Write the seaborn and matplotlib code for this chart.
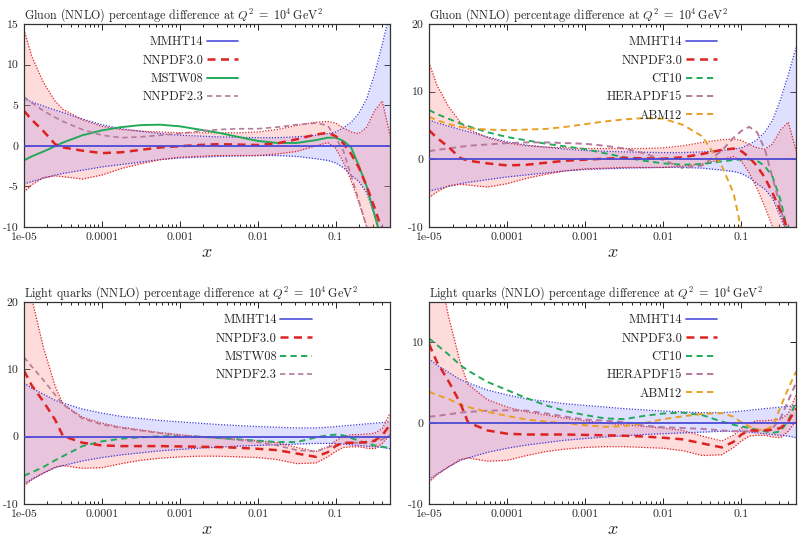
import numpy as np
import matplotlib
matplotlib.use('Agg')
import matplotlib.pyplot as plt
import seaborn as sns
from matplotlib.lines import Line2D
from matplotlib.ticker import LogLocator, NullFormatter

# log10(x) grid the curves were read at
log_x = [-5, -4.9, -4.75, -4.6, -4.5, -4.25, -4, -3.75, -3.5, -3.25, -3, -2.75, -2.5, -2.25,
         -2, -1.75, -1.5, -1.25, -1.1, -1, -0.9, -0.8, -0.7, -0.6, -0.5, -0.4, -0.3]
x = 10 ** np.array(log_x)

# ---- gluon ----
g_mmht_up = [5.8, 5.4, 4.9, 4.4, 4.1, 3.3, 2.6, 2.1, 1.8, 1.5, 1.3, 1.2, 1.1, 1.05,
             1.0, 1.0, 1.1, 1.3, 1.5, 1.7, 2.2, 2.9, 4.0, 5.8, 8.8, 12.5, 16.5]
g_mmht_dn = [-4.7, -4.4, -4.0, -3.6, -3.4, -3.0, -2.6, -2.3, -2.0, -1.7, -1.5, -1.4, -1.3, -1.25,
             -1.2, -1.2, -1.3, -1.6, -1.8, -2.1, -2.7, -3.6, -4.4, -5.8, -8.5, -11.5, -15]
g_nn30_up = [14.3, 11.0, 7.8, 5.5, 4.5, 3.2, 2.4, 2.0, 1.8, 1.7, 1.6, 1.6, 1.6, 1.6,
             1.7, 2.0, 2.5, 2.9, 3.0, 2.8, 2.2, 1.7, 1.5, 2.3, 4.3, 5.5, 1.3]
g_nn30_dn = [-5.7, -4.8, -3.9, -3.7, -3.8, -4.1, -3.6, -2.8, -2.2, -1.7, -1.4, -1.3, -1.2, -1.2,
             -1.2, -1.0, -0.7, 0.0, 0.4, -0.3, -2.0, -4.3, -7.0, -10, -14, -19, -25]
g_nn30 = [4.3, 3.2, 1.8, 0.2, -0.2, -0.6, -0.9, -0.8, -0.5, -0.2, -0.05, 0.1, 0.2, 0.15,
          0.1, 0.3, 0.8, 1.4, 1.6, 1.2, 0.3, -1.0, -2.7, -5.0, -7.6, -10.5, -14]
g_mstw08 = [-1.8, -1.3, -0.7, -0.05, 0.4, 1.3, 1.9, 2.3, 2.55, 2.6, 2.4, 2.0, 1.6, 1.1,
            0.6, 0.35, 0.35, 0.7, 1.0, 1.0, 0.6, -0.2, -2.5, -5.0, -8.5, -12, -16]
g_nn23 = [6.0, 5.3, 4.3, 3.5, 3.0, 2.0, 1.3, 1.0, 1.1, 1.3, 1.5, 1.8, 2.0, 2.1,
          2.1, 2.3, 2.6, 2.8, 2.5, 1.0, -0.6, -3.7, -6.8, -10, -14, -18, -22]
g_ct10 = [7.3, 6.7, 6.0, 5.3, 4.9, 4.0, 3.3, 2.8, 2.3, 1.9, 1.5, 0.9, 0.3, -0.2,
          -0.6, -0.8, -0.7, -0.3, -0.1, 0.0, 0.0, -0.2, -1.0, -2.6, -6.0, -11, -16]
g_hera15 = [1.2, 1.4, 1.6, 1.85, 2.0, 2.2, 2.4, 2.5, 2.5, 2.4, 2.3, 2.0, 1.6, 0.9,
            -0.1, -1.3, -0.9, 1.3, 3.2, 4.2, 4.8, 4.0, 1.5, -2.8, -7.0, -12, -17]
g_abm12 = [6.3, 5.8, 5.2, 4.8, 4.6, 4.4, 4.3, 4.4, 4.5, 4.8, 5.2, 5.6, 5.9, 6.1,
           6.0, 5.1, 3.4, -1.0, -5.0, -10.5, -16, -22, -28, -34, -40, -46, -52]

# ---- light quarks ----
q_mmht_up = [8.0, 7.2, 6.3, 5.4, 5.0, 4.1, 3.5, 3.0, 2.7, 2.4, 2.2, 2.0, 1.8, 1.65,
             1.5, 1.4, 1.3, 1.3, 1.4, 1.5, 1.6, 1.7, 1.8, 1.9, 2.0, 2.1, 2.2]
q_mmht_dn = [-7.0, -6.3, -5.4, -4.6, -4.3, -3.6, -3.1, -2.7, -2.4, -2.1, -1.9, -1.7, -1.55, -1.4,
             -1.3, -1.2, -1.1, -1.0, -1.0, -1.0, -1.1, -1.2, -1.3, -1.4, -1.5, -1.6, -1.8]
q_nn30_up = [26, 20.5, 13.2, 7.5, 4.8, 2.9, 2.0, 1.4, 1.0, 0.6, 0.3, 0.0, -0.2, -0.4,
             -0.6, -0.9, -1.6, -2.2, -1.5, -0.6, 0.0, 0.3, 0.3, 0.4, 0.5, 1.2, 3.5]
q_nn30_dn = [-7.3, -6.4, -5.4, -4.5, -4.3, -4.7, -4.6, -4.0, -3.5, -3.2, -3.0, -2.9, -2.9, -3.0,
             -3.1, -3.4, -4.0, -3.9, -3.0, -2.2, -1.6, -1.5, -1.5, -1.7, -1.8, -1.0, 0.3]
q_nn30 = [9.8, 7.6, 5.2, 2.5, 0.1, -0.9, -1.3, -1.4, -1.4, -1.4, -1.45, -1.5, -1.55, -1.65,
          -1.8, -2.0, -2.5, -3.0, -2.3, -1.4, -0.9, -0.9, -0.9, -0.8, -0.6, 0.2, 1.8]
q_mstw08 = [-5.8, -5.3, -4.5, -3.5, -2.9, -1.4, -0.7, -0.3, -0.1, 0.05, 0.1, 0.0, -0.2, -0.4,
            -0.6, -0.8, -0.8, -0.1, 0.2, 0.3, 0.2, -0.2, -0.6, -1.0, -1.3, -1.5, -1.7]
q_nn23 = [11.8, 10.4, 8.4, 6.2, 4.8, 2.7, 1.8, 1.3, 0.9, 0.5, 0.2, 0.0, -0.2, -0.5,
          -0.8, -1.3, -2.0, -2.2, -1.6, -1.2, -1.0, -0.9, -0.9, -0.8, -0.7, -0.4, 0.2]
q_ct10 = [10.5, 9.7, 8.5, 7.2, 6.5, 5.1, 4.1, 3.1, 2.2, 1.5, 1.0, 0.6, 0.5, 0.9,
          1.2, 1.3, 1.0, 0.2, -0.2, -0.4, -0.6, -0.8, -1.0, -1.2, -1.0, 0.3, 2.7]
q_hera15 = [0.8, 0.9, 1.1, 1.3, 1.4, 1.55, 1.6, 1.55, 1.2, 0.8, 0.45, 0.3, 0.15, -0.3,
            -0.5, -0.6, -0.7, -0.9, -1.0, -1.0, -1.0, -1.0, -0.9, -0.6, 0.6, 2.8, 5.0]
q_abm12 = [3.9, 3.5, 3.0, 2.3, 2.0, 1.4, 0.9, 0.45, 0.2, 0.0, -0.25, -0.45, -0.35, 0.0,
           0.5, 0.85, 1.15, 1.25, 0.8, 0.1, -0.4, -0.8, -0.8, -0.4, 2.0, 4.3, 6.4]

x_ticks = [1e-5, 1e-4, 1e-3, 1e-2, 1e-1]
x_tick_labels = ['1e-05', '0.0001', '0.001', '0.01', '0.1']

BLUE = '#3a3ad8'
RED = '#dd2222'
GREEN = '#22aa5a'
MAUVE = '#b57a9c'
ORANGE = '#e9a022'

sns.set_theme(style='ticks')
plt.rcParams['font.family'] = ['cmr10', 'DejaVu Serif']
plt.rcParams['mathtext.fontset'] = 'cm'
plt.rcParams['axes.unicode_minus'] = False
plt.rcParams['axes.formatter.use_mathtext'] = True

DASH = (0, (3.2, 2.2))
DOT = (0, (1, 1.3))


def draw_panel(ax, mmht_up, mmht_dn, nn_up, nn_dn, nn_c, others, ylim, yticks, title, anchor):
    ax.fill_between(x, mmht_dn, mmht_up, color='#8c8cff', alpha=0.27, lw=0)
    ax.fill_between(x, nn_dn, nn_up, color='#ff8c8c', alpha=0.3, lw=0)
    for y in (mmht_up, mmht_dn):
        sns.lineplot(x=x, y=y, ax=ax, color=BLUE, linewidth=0.9, linestyle=DOT)
    for y in (nn_up, nn_dn):
        sns.lineplot(x=x, y=y, ax=ax, color=RED, linewidth=0.9, linestyle=DOT)
    ax.axhline(0, color='#4b4bd6', lw=1.3, zorder=3)
    handles = [Line2D([], [], color='#5a5ae0', lw=1.3),
               Line2D([], [], color=RED, lw=1.8, linestyle=DASH)]
    labels = ['MMHT14', 'NNPDF3.0']
    for name, vals, col, ls, lw in others:
        sns.lineplot(x=x, y=vals, ax=ax, color=col, linewidth=lw, linestyle=ls)
        handles.append(Line2D([], [], color=col, lw=lw, linestyle=ls))
        labels.append(name)
    sns.lineplot(x=x, y=nn_c, ax=ax, color=RED, linewidth=1.8, linestyle=DASH)

    ax.set_xscale('log')
    ax.set_xlim(1e-5, 0.5)
    ax.set_ylim(*ylim)
    ax.set_xticks(x_ticks)
    ax.set_xticklabels(x_tick_labels)
    ax.xaxis.set_minor_locator(LogLocator(base=10, subs=np.arange(2, 10)))
    ax.xaxis.set_minor_formatter(NullFormatter())
    ax.set_yticks(yticks)
    ax.set_yticklabels([str(t) for t in yticks])
    ax.tick_params(which='both', direction='in', top=True, right=True,
                   labelsize=8.5, color='#222222', width=0.7)
    ax.tick_params(which='major', length=4.5, pad=4)
    ax.tick_params(which='minor', length=2.5)
    for s in ax.spines.values():
        s.set_linewidth(0.9)
        s.set_color('#333333')
    ax.set_xlabel('$x$', fontsize=13, labelpad=2)
    ax.set_ylabel('')
    ax.set_title(title, loc='left', fontsize=8.7, pad=4)
    ax.legend(handles, labels, loc='upper right', bbox_to_anchor=anchor, frameon=False,
              markerfirst=False, fontsize=9, handlelength=2.5, handletextpad=0.3,
              labelspacing=0.5, borderpad=0, borderaxespad=0)


fig = plt.figure(figsize=(7.98, 5.38), dpi=100)
W, H = 798, 538


def add_ax(x0, x1, y0, y1):
    return fig.add_axes([x0 / W, 1 - y1 / H, (x1 - x0) / W, (y1 - y0) / H])


ax1 = add_ax(24, 390, 24, 227)
ax2 = add_ax(429, 796, 24, 227)
ax3 = add_ax(24, 390, 302, 504)
ax4 = add_ax(429, 796, 302, 504)

g_title = 'Gluon (NNLO) percentage difference at $Q^2\\;=\\;10^4\\,\\mathrm{GeV}^2$'
q_title = 'Light quarks (NNLO) percentage difference at $Q^2\\;=\\;10^4\\,\\mathrm{GeV}^2$'

draw_panel(ax1, g_mmht_up, g_mmht_dn, g_nn30_up, g_nn30_dn, g_nn30,
           [('MSTW08', g_mstw08, GREEN, '-', 1.4),
            ('NNPDF2.3', g_nn23, MAUVE, DASH, 1.2)],
           (-10, 15), [-10, -5, 0, 5, 10, 15], g_title, (0.585, 0.94))
draw_panel(ax2, g_mmht_up, g_mmht_dn, g_nn30_up, g_nn30_dn, g_nn30,
           [('CT10', g_ct10, GREEN, DASH, 1.4),
            ('HERAPDF15', g_hera15, MAUVE, DASH, 1.4),
            ('ABM12', g_abm12, ORANGE, DASH, 1.4)],
           (-10, 20), [-10, 0, 10, 20], g_title, (0.785, 0.94))
draw_panel(ax3, q_mmht_up, q_mmht_dn, q_nn30_up, q_nn30_dn, q_nn30,
           [('MSTW08', q_mstw08, GREEN, DASH, 1.4),
            ('NNPDF2.3', q_nn23, MAUVE, DASH, 1.2)],
           (-10, 20), [-10, 0, 10, 20], q_title, (0.786, 0.94))
draw_panel(ax4, q_mmht_up, q_mmht_dn, q_nn30_up, q_nn30_dn, q_nn30,
           [('CT10', q_ct10, GREEN, DASH, 1.4),
            ('HERAPDF15', q_hera15, MAUVE, DASH, 1.4),
            ('ABM12', q_abm12, ORANGE, DASH, 1.4)],
           (-10, 15), [-10, 0, 10], q_title, (0.785, 0.94))

fig.savefig('out.png', dpi=100)
